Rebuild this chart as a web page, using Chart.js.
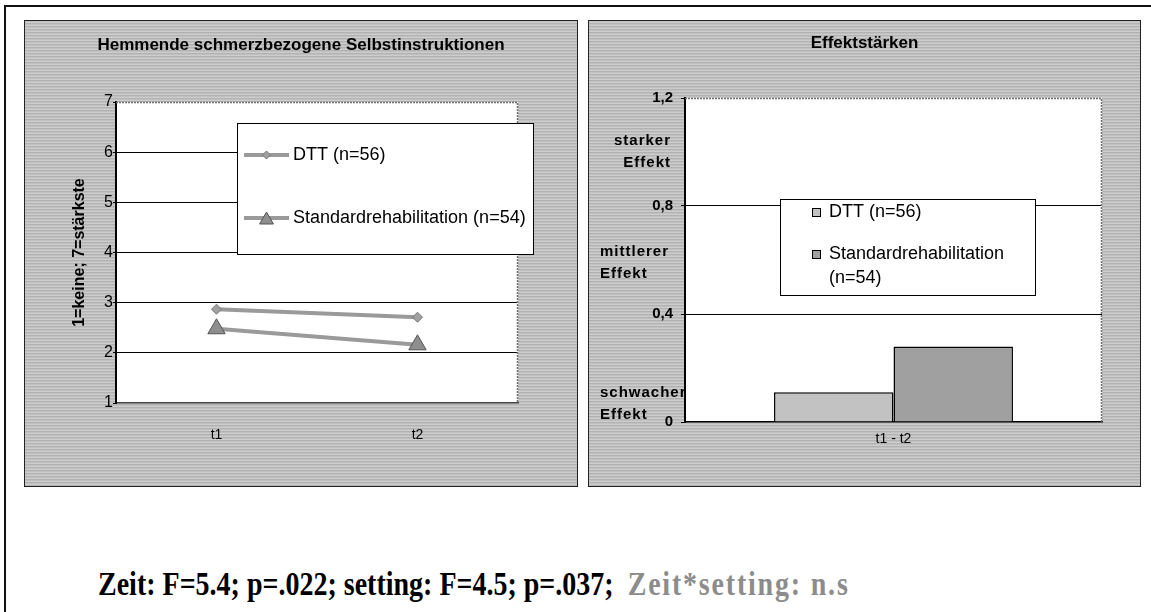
<!DOCTYPE html>
<html>
<head>
<meta charset="utf-8">
<script src="https://cdn.jsdelivr.net/npm/chart.js@4.4.0/dist/chart.umd.min.js"></script>
<style>
  body { margin: 0; width: 1151px; height: 612px; background: #fff; position: relative; overflow: hidden;
         font-family: "Liberation Sans", Arial, sans-serif; }
  .rule { position: absolute; background: #111; }
  .panel { position: absolute; top: 20px; height: 467px; box-sizing: border-box; border: 1px solid #222;
           background-color: #c6c6c6;
           background-image: repeating-linear-gradient(0deg, rgba(0,0,0,0.10) 0 1px, rgba(255,255,255,0.12) 1px 2px, rgba(0,0,0,0.03) 2px 3px); }
  canvas { position: absolute; }
  #stats { position: absolute; left: 98px; top: 567px; font: bold 28px "Liberation Serif", "Times New Roman", serif;
           line-height: 1; white-space: nowrap; transform: scaleY(1.2); transform-origin: left top; }
  #stats .gray { color: #8c8c8c; letter-spacing: 1.8px; }
</style>
</head>
<body>
<div class="rule" style="left:4px; top:5px; width:1147px; height:2px;"></div>
<div class="rule" style="left:4px; top:5px; width:2px; height:607px;"></div>
<div class="panel" style="left:24px; width:554px;"></div>
<div class="panel" style="left:588px; width:553px;"></div>
<canvas id="chartLeft" width="552" height="466" style="left:25px; top:20px;"></canvas>
<canvas id="chartRight" width="551" height="466" style="left:589px; top:20px;"></canvas>
<div id="stats">Zeit: F=5.4; p=.022; setting: F=4.5; p=.037;&nbsp; <span class="gray">Zeit*setting: n.s</span></div>

<script>
// left chart: mean values per measurement time
var timeLabels = ["t1", "t2"];
var dttMeans = [2.87, 2.71];
var stdMeans = [2.48, 2.16];

// right chart: effect sizes t1 - t2
var effectCategory = ["t1 - t2"];
var dttEffect = [0.11];
var stdEffect = [0.28];
var effectTickValues = [0, 0.4, 0.8, 1.2];
var effectTickText = ["0", "0,4", "0,8", "1,2"];
var effectNames = [["starker", "Effekt"], ["mittlerer", "Effekt"], ["schwacher", "Effekt"]];
var effectNameValues = [1.0, 0.59, 0.067];

var FONT = '"Liberation Sans", Arial, sans-serif';
Chart.defaults.font.family = FONT;
Chart.defaults.color = "#000";

// title centred over the whole grey panel (not over the plot)
const panelTitle = {
    id: "panelTitle",
    afterDraw(chart, args, opts) {
        const ctx = chart.ctx;
        ctx.save();
        ctx.font = "bold 17px " + FONT;
        ctx.fillStyle = "#000";
        ctx.textAlign = "center";
        ctx.textBaseline = "middle";
        ctx.fillText(opts.text, chart.width / 2, opts.y);
        ctx.restore();
    }
};

// white plot area + grey dotted top/right frame
const plotFrame = {
    id: "plotFrame",
    beforeDraw(chart) {
        const { ctx, chartArea: a } = chart;
        ctx.save();
        ctx.fillStyle = "#fff";
        ctx.fillRect(a.left, a.top, a.right - a.left, a.bottom - a.top);
        ctx.restore();
    },
    beforeDatasetsDraw(chart) {
        const { ctx, chartArea: a } = chart;
        ctx.save();
        ctx.strokeStyle = "#6f6f6f";
        ctx.lineWidth = 1.5;
        ctx.setLineDash([2, 1]);
        ctx.beginPath();
        ctx.moveTo(a.left, a.top + 0.5);
        ctx.lineTo(a.right - 0.5, a.top + 0.5);
        ctx.lineTo(a.right - 0.5, a.bottom);
        ctx.stroke();
        ctx.restore();
    }
};

function drawMarker(ctx, style, x, y, r) {
    ctx.beginPath();
    if (style === "triangle") {
        ctx.moveTo(x, y - r);
        ctx.lineTo(x + r * 0.866, y + r * 0.5);
        ctx.lineTo(x - r * 0.866, y + r * 0.5);
    } else {
        ctx.moveTo(x, y - r);
        ctx.lineTo(x + r, y);
        ctx.lineTo(x, y + r);
        ctx.lineTo(x - r, y);
    }
    ctx.closePath();
    ctx.fill();
    ctx.stroke();
}

function wrapText(ctx, text, maxWidth) {
    if (ctx.measureText(text).width <= maxWidth) return [text];
    const cut = text.lastIndexOf(" ");
    return [text.slice(0, cut), text.slice(cut + 1)];
}

// legend in a white box, drawn by hand to sit where the original has it
const boxLegend = {
    id: "boxLegend",
    afterDraw(chart, args, opts) {
        const ctx = chart.ctx;
        ctx.save();
        ctx.fillStyle = "#fff";
        ctx.strokeStyle = "#000";
        ctx.lineWidth = 1;
        ctx.fillRect(opts.x, opts.y, opts.w, opts.h);
        ctx.strokeRect(opts.x + 0.5, opts.y + 0.5, opts.w, opts.h);
        ctx.font = "18px " + FONT;
        ctx.textBaseline = "middle";
        chart.data.datasets.forEach(function (ds, i) {
            const y = opts.rowY[i];
            if (opts.kind === "line") {
                ctx.strokeStyle = ds.borderColor;
                ctx.lineWidth = ds.borderWidth;
                ctx.beginPath();
                ctx.moveTo(opts.sampleX[0], y);
                ctx.lineTo(opts.sampleX[1], y);
                ctx.stroke();
                ctx.fillStyle = ds.pointBackgroundColor;
                ctx.strokeStyle = ds.pointBorderColor;
                ctx.lineWidth = 1;
                drawMarker(ctx, ds.pointStyle, (opts.sampleX[0] + opts.sampleX[1]) / 2, y + (ds.pointStyle === "triangle" ? 2 : 0), ds.pointRadius * 0.8);
            } else {
                ctx.fillStyle = ds.backgroundColor;
                ctx.strokeStyle = "#000";
                ctx.lineWidth = 1;
                ctx.fillRect(opts.sampleX[0], y - 4, 8, 8);
                ctx.strokeRect(opts.sampleX[0] + 0.5, y - 3.5, 8, 8);
            }
            ctx.fillStyle = "#000";
            const lines = wrapText(ctx, ds.label, opts.textMax);
            lines.forEach(function (t, k) {
                ctx.fillText(t, opts.textX, y + k * opts.lineGap);
            });
        });
        ctx.restore();
    }
};

// verbal effect size labels next to the y axis
const effectLabels = {
    id: "effectLabels",
    afterDraw(chart, args, opts) {
        const ctx = chart.ctx;
        const yScale = chart.scales.y;
        ctx.save();
        ctx.font = "bold 15px " + FONT;
        if ("letterSpacing" in ctx) ctx.letterSpacing = "1px";
        ctx.fillStyle = "#000";
        ctx.textBaseline = "middle";
        effectNames.forEach(function (lines, i) {
            const cy = yScale.getPixelForValue(effectNameValues[i]);
            ctx.textAlign = opts.align[i];
            const x = opts.align[i] === "right" ? opts.rightX : opts.leftX;
            lines.forEach(function (t, k) {
                ctx.fillText(t, x, cy + (k - 0.5) * 22);
            });
        });
        ctx.restore();
    }
};

new Chart(document.getElementById("chartLeft"), {
    type: "line",
    data: {
        labels: timeLabels,
        datasets: [
            {
                label: "DTT (n=56)",
                data: dttMeans,
                borderColor: "#9a9a9a",
                borderWidth: 4,
                pointStyle: "rectRot",
                pointRadius: 5,
                pointBackgroundColor: "#a0a0a0",
                pointBorderColor: "#777",
                pointBorderWidth: 1
            },
            {
                label: "Standardrehabilitation (n=54)",
                data: stdMeans,
                borderColor: "#9a9a9a",
                borderWidth: 4,
                pointStyle: "triangle",
                pointRadius: 10,
                pointBackgroundColor: "#8e8e8e",
                pointBorderColor: "#555",
                pointBorderWidth: 1
            }
        ]
    },
    options: {
        responsive: false,
        animation: false,
        layout: { padding: { left: 0, right: 59, top: 82, bottom: 0 } },
        plugins: {
            legend: { display: false },
            tooltip: { enabled: false },
            panelTitle: { text: "Hemmende schmerzbezogene Selbstinstruktionen", y: 25 },
            boxLegend: {
                kind: "line", x: 212, y: 103, w: 296, h: 131,
                rowY: [135, 198], sampleX: [219, 264], textX: 268, textMax: 260, lineGap: 24
            }
        },
        scales: {
            x: {
                offset: true,
                grid: { display: false },
                border: { display: true, color: "#444", width: 1.5 },
                ticks: { font: { size: 14 }, color: "#000", padding: 16 },
                afterFit: function (s) { s.height = 83; }
            },
            y: {
                min: 1,
                max: 7,
                ticks: { stepSize: 1, font: { size: 16 }, color: "#000", padding: 0 },
                grid: {
                    color: function (c) { return (c.tick.value === 1 || c.tick.value === 7) ? "rgba(0,0,0,0)" : "#000"; },
                    tickColor: "#000",
                    tickLength: 3,
                    lineWidth: 1
                },
                border: { color: "#000", width: 2 },
                title: {
                    display: true,
                    text: "1=keine; 7=stärkste",
                    font: { size: 16, weight: "bold" },
                    color: "#000",
                    padding: { top: 45, bottom: 0 }
                },
                afterFit: function (s) { s.width = 91; }
            }
        }
    },
    plugins: [plotFrame, boxLegend, panelTitle]
});

new Chart(document.getElementById("chartRight"), {
    type: "bar",
    data: {
        labels: effectCategory,
        datasets: [
            { label: "DTT (n=56)", data: dttEffect, backgroundColor: "#c2c2c2", borderColor: "#000", borderWidth: 1.5 },
            { label: "Standardrehabilitation (n=54)", data: stdEffect, backgroundColor: "#a0a0a0", borderColor: "#000", borderWidth: 1.5 }
        ]
    },
    options: {
        responsive: false,
        animation: false,
        categoryPercentage: 0.573,
        barPercentage: 1.0,
        layout: { padding: { left: 0, right: 38, top: 78, bottom: 0 } },
        plugins: {
            legend: { display: false },
            tooltip: { enabled: false },
            panelTitle: { text: "Effektstärken", y: 23 },
            boxLegend: {
                kind: "bar", x: 191, y: 179, w: 255, h: 96,
                rowY: [192, 234], sampleX: [223, 231], textX: 240, textMax: 200, lineGap: 24
            },
            effectLabels: { align: ["right", "left", "left"], rightX: 82, leftX: 11 }
        },
        scales: {
            x: {
                grid: { display: false },
                border: { display: true, color: "#000", width: 1.5 },
                ticks: { font: { size: 14 }, color: "#000", padding: 1 },
                afterFit: function (s) { s.height = 64; }
            },
            y: {
                min: 0,
                max: 1.2,
                afterBuildTicks: function (s) {
                    s.ticks = effectTickValues.map(function (v) { return { value: v }; });
                },
                ticks: {
                    font: { size: 15, weight: "bold" },
                    color: "#000",
                    padding: 8,
                    callback: function (value, index) { return effectTickText[index]; }
                },
                grid: {
                    color: function (c) { return (c.tick.value === 0 || c.tick.value === 1.2) ? "rgba(0,0,0,0)" : "#000"; },
                    tickColor: "#000",
                    tickLength: 4,
                    lineWidth: 1
                },
                border: { color: "#000", width: 2 },
                afterFit: function (s) { s.width = 96; }
            }
        }
    },
    plugins: [plotFrame, boxLegend, effectLabels, panelTitle]
});
</script>
</body>
</html>
